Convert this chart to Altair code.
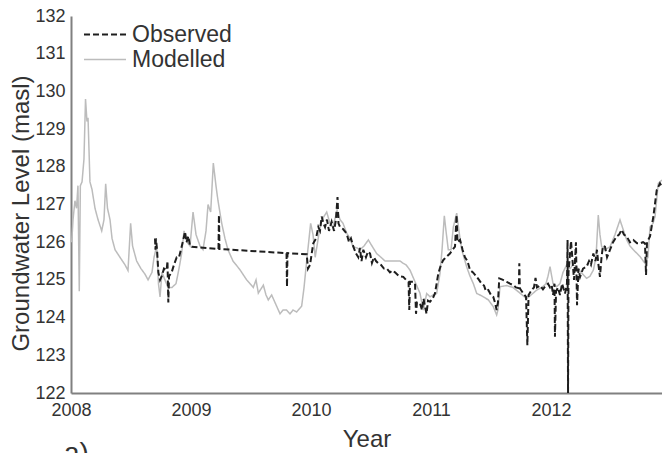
import altair as alt
import pandas as pd

# Modelled groundwater level (decimal year, m a.s.l.)
mod_year = [
    2008.006, 2008.017, 2008.033, 2008.046, 2008.058, 2008.069, 2008.078, 2008.092,
    2008.108, 2008.121, 2008.133, 2008.142, 2008.158, 2008.175, 2008.200, 2008.225,
    2008.256, 2008.275, 2008.289, 2008.304, 2008.325, 2008.342, 2008.367, 2008.408,
    2008.450, 2008.475, 2008.497, 2008.513, 2008.547, 2008.583, 2008.617, 2008.642,
    2008.658, 2008.675, 2008.692, 2008.714, 2008.729, 2008.742, 2008.758, 2008.783,
    2008.808, 2008.842, 2008.875, 2008.900, 2008.922, 2008.942, 2008.967, 2008.992,
    2009.017, 2009.042, 2009.075, 2009.100, 2009.125, 2009.142, 2009.164, 2009.186,
    2009.208, 2009.225, 2009.256, 2009.283, 2009.308, 2009.350, 2009.408, 2009.464,
    2009.492, 2009.519, 2009.542, 2009.561, 2009.603, 2009.625, 2009.644, 2009.672,
    2009.714, 2009.742, 2009.767, 2009.797, 2009.825, 2009.850, 2009.881, 2009.908,
    2009.922, 2009.942, 2009.964, 2009.997, 2010.017, 2010.035, 2010.070, 2010.092,
    2010.131, 2010.158, 2010.183, 2010.217, 2010.242, 2010.267, 2010.297, 2010.325,
    2010.350, 2010.383, 2010.408, 2010.442, 2010.478, 2010.508, 2010.547, 2010.583,
    2010.617, 2010.658, 2010.700, 2010.742, 2010.769, 2010.792, 2010.825, 2010.867,
    2010.908, 2010.936, 2010.964, 2010.992, 2011.017, 2011.047, 2011.075, 2011.092,
    2011.111, 2011.125, 2011.144, 2011.167, 2011.186, 2011.214, 2011.233, 2011.256,
    2011.297, 2011.325, 2011.353, 2011.381, 2011.408, 2011.436, 2011.478, 2011.519,
    2011.547, 2011.558, 2011.575, 2011.631, 2011.683, 2011.742, 2011.797, 2011.833,
    2011.881, 2011.925, 2011.958, 2011.975, 2011.992, 2012.017, 2012.047, 2012.075,
    2012.100, 2012.131, 2012.158, 2012.183, 2012.214, 2012.250, 2012.297, 2012.325,
    2012.353, 2012.375, 2012.394, 2012.408, 2012.422, 2012.450, 2012.492, 2012.533,
    2012.575, 2012.600, 2012.631, 2012.658, 2012.686, 2012.742, 2012.783, 2012.808,
    2012.825, 2012.850, 2012.867, 2012.894, 2012.925,
]
mod_level = [
    126.0, 126.6, 127.1, 126.9, 127.5, 124.7, 127.5, 127.6,
    128.2, 129.8, 129.2, 129.3, 127.6, 127.4, 126.9, 126.6,
    126.3, 126.6, 127.55, 126.9, 126.6, 126.1, 125.8, 125.6,
    125.4, 125.25, 126.5, 125.9, 125.5, 125.3, 125.15, 125.0,
    125.1, 125.2, 125.6, 125.9, 124.9, 124.55, 125.2, 125.0,
    124.8, 124.8, 124.9, 125.3, 125.7, 126.3, 126.0, 125.9,
    126.8, 126.2, 125.9, 125.8, 126.3, 127.0, 126.8, 128.1,
    127.5, 127.1, 126.5, 126.1, 125.8, 125.5, 125.27, 125.0,
    124.9, 124.8, 125.0, 124.65, 124.86, 124.6, 124.47, 124.6,
    124.3, 124.1, 124.2, 124.2, 124.1, 124.2, 124.15, 124.25,
    124.3, 124.8, 125.5, 126.5, 126.2, 125.6, 126.3, 126.6,
    126.8, 126.5, 126.4, 126.85, 126.6, 126.5, 126.24, 126.1,
    125.88, 125.85, 125.8, 125.9, 126.06, 125.9, 125.7, 125.6,
    125.5, 125.5, 125.5, 125.5, 125.44, 125.4, 125.26, 124.95,
    124.65, 124.2, 124.64, 124.55, 124.6, 124.64, 125.17, 125.8,
    126.7, 126.3, 125.8, 125.8, 126.4, 126.77, 126.3, 125.8,
    125.35, 125.1, 124.9, 124.64, 124.6, 124.55, 124.47, 124.29,
    124.07, 124.2, 124.82, 124.85, 124.8, 124.65, 124.5, 124.6,
    124.73, 124.8, 124.9, 125.1, 125.35, 124.9, 124.82, 124.9,
    125.2, 125.4, 125.3, 125.4, 125.35, 125.2, 125.04, 125.1,
    125.26, 125.6, 126.72, 126.2, 125.88, 125.8, 125.88, 126.2,
    126.59, 126.35, 126.06, 125.9, 125.8, 125.62, 125.44, 125.6,
    126.4, 126.5, 126.68, 127.56, 127.65,
]

# Observed groundwater level (decimal year, m a.s.l.)
obs_year = [
    2008.700, 2008.704, 2008.708, 2008.717, 2008.728, 2008.742, 2008.756, 2008.775,
    2008.797, 2008.804, 2008.811, 2008.817, 2008.839, 2008.858, 2008.881, 2008.900,
    2008.922, 2008.938, 2008.950, 2008.963, 2008.978, 2008.992, 2009.006, 2009.229,
    2009.233, 2009.237, 2009.796, 2009.800, 2009.804, 2009.964, 2009.975, 2009.992,
    2010.006, 2010.019, 2010.042, 2010.061, 2010.075, 2010.089, 2010.104, 2010.117,
    2010.133, 2010.150, 2010.172, 2010.192, 2010.208, 2010.221, 2010.229, 2010.242,
    2010.267, 2010.297, 2010.317, 2010.333, 2010.353, 2010.375, 2010.394, 2010.408,
    2010.421, 2010.436, 2010.458, 2010.475, 2010.492, 2010.508, 2010.525, 2010.542,
    2010.561, 2010.583, 2010.608, 2010.631, 2010.658, 2010.679, 2010.700, 2010.733,
    2010.769, 2010.792, 2010.813, 2010.819, 2010.825, 2010.850, 2010.867, 2010.875,
    2010.883, 2010.908, 2010.925, 2010.938, 2010.950, 2010.963, 2010.975, 2010.992,
    2011.013, 2011.033, 2011.061, 2011.083, 2011.103, 2011.125, 2011.158, 2011.179,
    2011.200, 2011.213, 2011.221, 2011.242, 2011.263, 2011.283, 2011.304, 2011.325,
    2011.350, 2011.381, 2011.400, 2011.422, 2011.442, 2011.458, 2011.478, 2011.500,
    2011.519, 2011.533, 2011.547, 2011.558, 2011.569, 2011.600, 2011.631, 2011.658,
    2011.686, 2011.708, 2011.732, 2011.736, 2011.740, 2011.769, 2011.792, 2011.803,
    2011.813, 2011.839, 2011.858, 2011.871, 2011.883, 2011.908, 2011.933, 2011.950,
    2011.975, 2011.992, 2012.006, 2012.017, 2012.029, 2012.033, 2012.042, 2012.058,
    2012.075, 2012.092, 2012.117, 2012.133, 2012.138, 2012.142, 2012.146, 2012.167,
    2012.179, 2012.192, 2012.208, 2012.217, 2012.229, 2012.242, 2012.267, 2012.297,
    2012.317, 2012.333, 2012.353, 2012.371, 2012.383, 2012.394, 2012.408, 2012.421,
    2012.433, 2012.450, 2012.467, 2012.492, 2012.517, 2012.547, 2012.567, 2012.589,
    2012.608, 2012.631, 2012.658, 2012.686, 2012.717, 2012.742, 2012.767, 2012.783,
    2012.792, 2012.800, 2012.825, 2012.853, 2012.881, 2012.908, 2012.925,
]
obs_level = [
    126.1, 125.8, 126.1, 125.8, 125.2, 125.0, 125.1, 125.3,
    125.26, 125.5, 124.4, 125.1, 125.2, 125.4, 125.6, 125.6,
    125.88, 126.1, 126.28, 126.0, 126.16, 125.9, 125.88, 125.82,
    126.72, 125.82, 125.71, 124.82, 125.71, 125.68, 125.3, 125.4,
    125.7, 125.97, 126.1, 126.4, 126.3, 126.68, 126.5, 126.4,
    126.6, 126.3, 126.54, 126.3, 126.6, 127.2, 126.5, 126.4,
    126.35, 126.23, 126.0, 126.1, 125.88, 125.7, 125.6, 125.85,
    125.5, 125.8, 125.6, 125.75, 125.7, 125.45, 125.6, 125.5,
    125.44, 125.4, 125.3, 125.3, 125.2, 125.25, 125.2, 125.1,
    125.08, 125.0, 124.95, 124.2, 124.95, 124.95, 124.9, 124.1,
    124.4, 124.38, 124.2, 124.5, 124.29, 124.1, 124.45, 124.42,
    124.5, 124.64, 125.17, 125.4, 125.53, 125.6, 125.7, 125.8,
    125.88, 126.72, 126.0, 126.06, 125.8, 125.6, 125.5, 125.26,
    125.2, 125.08, 125.0, 124.9, 124.85, 124.7, 124.73, 124.6,
    124.55, 124.4, 124.2, 124.4, 125.04, 125.0, 124.95, 124.9,
    124.86, 124.8, 124.78, 125.44, 124.78, 124.64, 124.55, 123.27,
    124.6, 124.73, 124.8, 125.05, 124.8, 124.85, 124.75, 124.82,
    124.9, 124.8, 124.86, 124.6, 124.9, 123.49, 124.7, 124.8,
    124.6, 124.9, 124.64, 124.9, 126.06, 122.0, 125.2, 126.03,
    125.53, 125.0, 126.0, 124.33, 125.3, 125.08, 125.3, 125.35,
    125.5, 125.4, 125.7, 125.5, 125.8, 125.44, 125.08, 125.6,
    125.9, 125.88, 125.6, 125.8, 126.0, 126.15, 126.2, 126.33,
    126.2, 126.15, 126.0, 126.06, 125.97, 125.97, 126.0, 125.97,
    125.13, 126.0, 126.15, 126.68, 127.38, 127.56, 127.47,
]

series_names = ["Observed", "Modelled"]
series_colors = ["#1e1e1e", "#bcbcbc"]
series_dashes = [[6, 3], [1, 0]]
series_widths = [2.0, 1.5]
year_ticks = [2008, 2009, 2010, 2011, 2012]
level_ticks = list(range(122, 133))

# Modelled rows come first so the observed line is drawn on top of it
df = pd.concat(
    [
        pd.DataFrame({"year": mod_year, "level": mod_level, "series": "Modelled", "idx": range(len(mod_year))}),
        pd.DataFrame({"year": obs_year, "level": obs_level, "series": "Observed", "idx": range(len(obs_year))}),
    ],
    ignore_index=True,
)

FONT = "Liberation Sans"

legend_style = dict(
    title=None, orient="none", legendX=12, legendY=6,
    symbolType="stroke", symbolSize=1764, symbolStrokeWidth=1.6,
    clipHeight=25, rowPadding=0, labelOffset=5,
    labelFont=FONT, labelFontSize=23, labelColor="#333333",
)

x_enc = alt.X(
    "year:Q",
    scale=alt.Scale(domain=[2008, 2012.925], nice=False, zero=False),
    axis=alt.Axis(
        values=year_ticks, format="d", title="Year", labelPadding=8,
        titleY=46, titleBaseline="middle",
    ),
)
y_enc = alt.Y(
    "level:Q",
    scale=alt.Scale(domain=[122, 132], nice=False, zero=False),
    axis=alt.Axis(
        values=level_ticks, title="Groundwater Level (masl)", labelPadding=6,
        titleX=-50, titleY=197, titleBaseline="middle", titleAngle=-90,
    ),
)

lines = alt.Chart(df).mark_line(clip=True).encode(
    x=x_enc,
    y=y_enc,
    order="idx:Q",
    color=alt.Color(
        "series:N",
        scale=alt.Scale(domain=series_names, range=series_colors),
        legend=alt.Legend(**legend_style),
    ),
    strokeDash=alt.StrokeDash(
        "series:N",
        scale=alt.Scale(domain=series_names, range=series_dashes),
        legend=alt.Legend(**legend_style),
    ),
    strokeWidth=alt.StrokeWidth(
        "series:N",
        scale=alt.Scale(domain=series_names, range=series_widths),
        legend=None,
    ),
)

# Panel letter below the axis, largely cut off by the figure edge
panel_label = alt.Chart(pd.DataFrame({"t": ["a)"]})).mark_text(
    align="left", baseline="alphabetic", font=FONT, fontSize=28, color="#333333"
).encode(text="t:N", x=alt.value(-7), y=alt.value(446))

chart = (
    alt.layer(lines, panel_label)
    .properties(
        width=591, height=377,
        autosize=alt.AutoSizeParams(type="none"),
        padding={"left": 71, "top": 16, "right": 0, "bottom": 60},
    )
    .configure_view(stroke=None)
    .configure_axis(
        domainColor="#808080", domainWidth=2, ticks=False, grid=False,
        labelFont=FONT, labelFontSize=18, labelColor="#333333",
        titleFont=FONT, titleFontSize=24, titleFontWeight="normal", titleColor="#333333",
        labelFlush=False, labelOverlap=False,
    )
)

chart.save("out.html", embed_options={"renderer": "svg", "actions": False})
